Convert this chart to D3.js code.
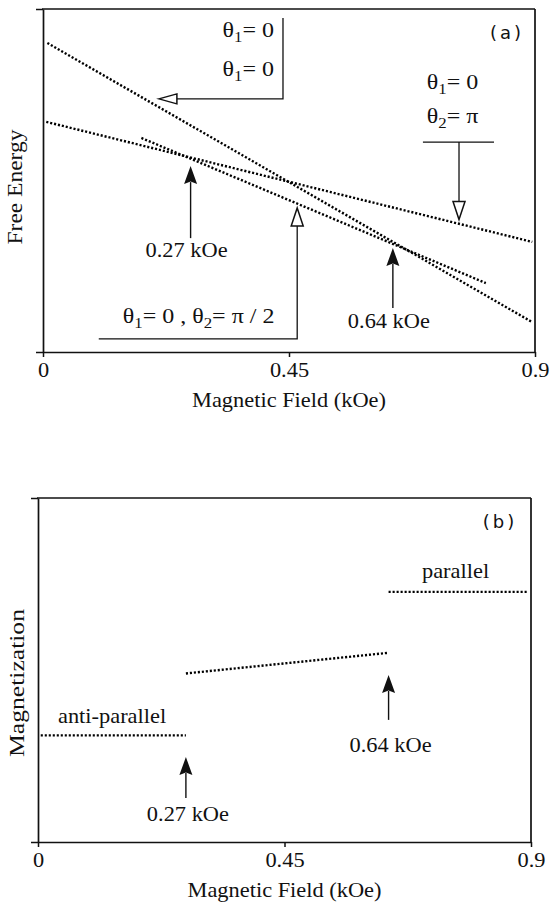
<!DOCTYPE html>
<html>
<head>
<meta charset="utf-8">
<script src="https://cdn.jsdelivr.net/npm/d3@7"></script>
<style>
  html, body { margin: 0; padding: 0; background: #fff; }
  svg { display: block; }
</style>
</head>
<body>
<svg id="fig" width="551" height="903"></svg>
<script>
// ---- data -------------------------------------------------------------
// shared field axis (kOe)
const fieldTicks = [0, 0.45, 0.9];
const fieldTickLabels = ["0", "0.45", "0.9"];

// (a) free energy (arbitrary units) vs field, straight segments [field, energy]
const energyParallel      = [[0.008, 9.01], [0.895, 0.87]];   // θ1 = 0, θ2 = 0
const energyAntiparallel  = [[0.006, 6.71], [0.895, 3.21]];   // θ1 = 0, θ2 = π
const energyPerpendicular = [[0.18, 6.24], [0.81, 2.01]];     // θ1 = 0, θ2 = π/2

// (b) magnetization (arbitrary units) vs field
const magAntiparallel = [[0.005, 0.31], [0.27, 0.31]];
const magCanted       = [[0.27, 0.49], [0.64, 0.55]];
const magParallel     = [[0.64, 0.727], [0.895, 0.727]];

// switching fields (kOe)
const switchFields = [0.27, 0.64];
const switchLabels = ["0.27 kOe", "0.64 kOe"];

// ---- drawing ------------------------------------------------------------
const SERIF = "'Liberation Serif','Times New Roman',Times,serif";
const SANS = "'DejaVu Sans','Liberation Sans',Arial,sans-serif";
const INK = "#111";
const svg = d3.select("#fig");

const xa = d3.scaleLinear().domain([0, 0.9]).range([43, 535]);
const ya = d3.scaleLinear().domain([0, 10]).range([352, 9]);
const xb = d3.scaleLinear().domain([0, 0.9]).range([38, 531]);
const yb = d3.scaleLinear().domain([0, 1]).range([842, 498]);

// serif text, slightly widened; parts: strings or [string] for a subscript
function serifText(parent, x, y, parts, anchor = "start", size = 20, sx = 1.12) {
  const t = parent.append("text")
    .attr("transform", `translate(${x},${y}) scale(${sx},1)`)
    .attr("text-anchor", anchor)
    .style("font-family", SERIF)
    .style("font-size", size + "px")
    .attr("fill", INK);
  if (typeof parts === "string") parts = [parts];
  let shifted = false;
  parts.forEach(p => {
    const s = t.append("tspan");
    if (Array.isArray(p)) {
      s.text(p[0]).style("font-size", "14px").attr("dy", shifted ? 0 : 5);
      shifted = true;
    } else {
      s.text(p).attr("dy", shifted ? -5 : 0);
      shifted = false;
    }
  });
  return t;
}
const thetaText = (g, x, y, parts, anchor = "start") => serifText(g, x, y, parts, anchor, 20, 1.2);

function frame(g, x, y) {
  const [x0, x1] = x.range();
  const [yBot, yTop] = y.range();
  const bottom = g.append("g")
    .attr("transform", `translate(0,${yBot})`)
    .call(d3.axisBottom(x).tickValues(fieldTicks)
      .tickFormat((d, i) => fieldTickLabels[i])
      .tickSize(5).tickSizeOuter(0));
  const left = g.append("g")
    .attr("transform", `translate(${x0},0)`)
    .call(d3.axisLeft(y).tickValues(y.domain()).tickFormat("")
      .tickSize(7).tickSizeOuter(0));
  [bottom, left].forEach(a => {
    a.selectAll("path.domain").attr("stroke", INK).attr("stroke-width", 1.7);
    a.selectAll(".tick line").attr("stroke", INK).attr("stroke-width", 1.5);
  });
  bottom.selectAll(".tick text")
    .attr("y", 25).attr("dy", 0)
    .attr("transform", "scale(1.12,1)")
    .style("font-family", SERIF).style("font-size", "20px").attr("fill", INK);
  g.append("line").attr("x1", x0 - 1).attr("x2", x1).attr("y1", yTop).attr("y2", yTop)
    .attr("stroke", INK).attr("stroke-width", 1.7);
  g.append("line").attr("x1", x1).attr("x2", x1).attr("y1", yTop).attr("y2", yBot)
    .attr("stroke", INK).attr("stroke-width", 1.7);
  serifText(g, (x0 + x1) / 2, yBot + 55, "Magnetic Field (kOe)", "middle");
}

function dotted(g, pts, x, y) {
  g.append("path")
    .attr("d", d3.line().x(d => x(d[0])).y(d => y(d[1]))(pts))
    .attr("fill", "none").attr("stroke", "#000")
    .attr("stroke-width", 2.4).attr("stroke-dasharray", "2.1 1.9");
}

function yLabel(g, text, cx, cy, len) {
  g.append("text")
    .attr("transform", `translate(${cx},${cy}) rotate(-90)`)
    .attr("text-anchor", "middle")
    .attr("textLength", len).attr("lengthAdjust", "spacingAndGlyphs")
    .style("font-family", SERIF).style("font-size", "20px")
    .attr("fill", INK).text(text);
}

function panelTag(g, x, y, text) {
  g.append("text").attr("x", x).attr("y", y)
    .attr("text-anchor", "end").style("font-family", SANS).style("font-size", "18px")
    .style("letter-spacing", "3px").attr("fill", INK).text(text);
}

// filled head pointing up at (px, tip), shaft down to tail
function filledArrowUp(g, px, tip, tail) {
  const L = 18, W = 6.5;
  g.append("line").attr("x1", px).attr("x2", px).attr("y1", tip + L - 2).attr("y2", tail)
    .attr("stroke", INK).attr("stroke-width", 1.4);
  g.append("path")
    .attr("d", `M${px},${tip} L${px + W},${tip + L} L${px},${tip + L - 2.5} L${px - W},${tip + L} Z`)
    .attr("fill", INK);
}

// open head; dir = "up" | "down" | "left"
function openHead(g, px, py, dir) {
  const L = 18, W = 6;
  let d;
  if (dir === "up") d = `M${px},${py} L${px + W},${py + L} L${px - W},${py + L} Z`;
  else if (dir === "down") d = `M${px},${py} L${px + W},${py - L} L${px - W},${py - L} Z`;
  else d = `M${px},${py} L${px + L},${py - W + 1} L${px + L},${py + W - 1} Z`;
  g.append("path").attr("d", d).attr("fill", "#fff")
    .attr("stroke", INK).attr("stroke-width", 1.5).attr("stroke-linejoin", "miter");
}

function polyline(g, pts) {
  g.append("path").attr("d", d3.line()(pts))
    .attr("fill", "none").attr("stroke", INK).attr("stroke-width", 1.3);
}

// ---------------- panel (a): free energy ----------------
const ga = svg.append("g");
frame(ga, xa, ya);
yLabel(ga, "Free Energy", 22, 187, 115);
[energyParallel, energyAntiparallel, energyPerpendicular].forEach(s => dotted(ga, s, xa, ya));
panelTag(ga, xa(0.88), ya(9.12), "(a)");

// θ1 = 0, θ2 = 0 branch: labels with bracket and open arrow pointing left
thetaText(ga, xa(0.4226), ya(9.18), ["θ", ["1"], "= 0"], "end");
thetaText(ga, xa(0.4226), ya(8.05), ["θ", ["1"], "= 0"], "end");
polyline(ga, [[xa(0.439), ya(9.74)], [xa(0.439), ya(7.38)], [xa(0.212) + 18, ya(7.38)]]);
openHead(ga, xa(0.212), ya(7.38), "left");

// θ1 = 0, θ2 = π branch: labels, rule and open arrow pointing down
thetaText(ga, xa(0.702), ya(7.67), ["θ", ["1"], "= 0"]);
thetaText(ga, xa(0.702), ya(6.68), ["θ", ["2"], "= π"]);
polyline(ga, [[xa(0.695), ya(6.12)], [xa(0.825), ya(6.12)]]);
polyline(ga, [[xa(0.761), ya(6.12)], [xa(0.761), ya(3.86) - 18]]);
openHead(ga, xa(0.761), ya(3.86), "down");

// θ1 = 0, θ2 = π/2 branch: label, rule and open arrow pointing up
thetaText(ga, xa(0.146), ya(0.85), ["θ", ["1"], "= 0 , θ", ["2"], "= π / 2"]);
polyline(ga, [[xa(0.102), ya(0.38)], [xa(0.465), ya(0.38)], [xa(0.465), ya(4.20) + 18]]);
openHead(ga, xa(0.465), ya(4.20), "up");

// switching fields
const tipsA = [5.42, 3.03], tailsA = [3.32, 1.28], textA = [2.77, 0.70];
switchFields.forEach((f, i) => {
  filledArrowUp(ga, xa(f), ya(tipsA[i]), ya(tailsA[i]));
  serifText(ga, xa(f) - 4, ya(textA[i]), switchLabels[i], "middle");
});

// ---------------- panel (b): magnetization ----------------
const gb = svg.append("g");
frame(gb, xb, yb);
yLabel(gb, "Magnetization", 24, 683, 148);
[magAntiparallel, magCanted, magParallel].forEach(s => dotted(gb, s, xb, yb));
panelTag(gb, xb(0.875), yb(0.913), "(b)");

serifText(gb, xb(0.701), yb(0.767), "parallel");
serifText(gb, xb(0.0365), yb(0.346), "anti-parallel");

const tipsB = [0.247, 0.4855], tailsB = [0.128, 0.355], textB = [0.061, 0.262];
switchFields.forEach((f, i) => {
  filledArrowUp(gb, xb(f), yb(tipsB[i]), yb(tailsB[i]));
  serifText(gb, xb(f) + 2, yb(textB[i]), switchLabels[i], "middle");
});
</script>
</body>
</html>
